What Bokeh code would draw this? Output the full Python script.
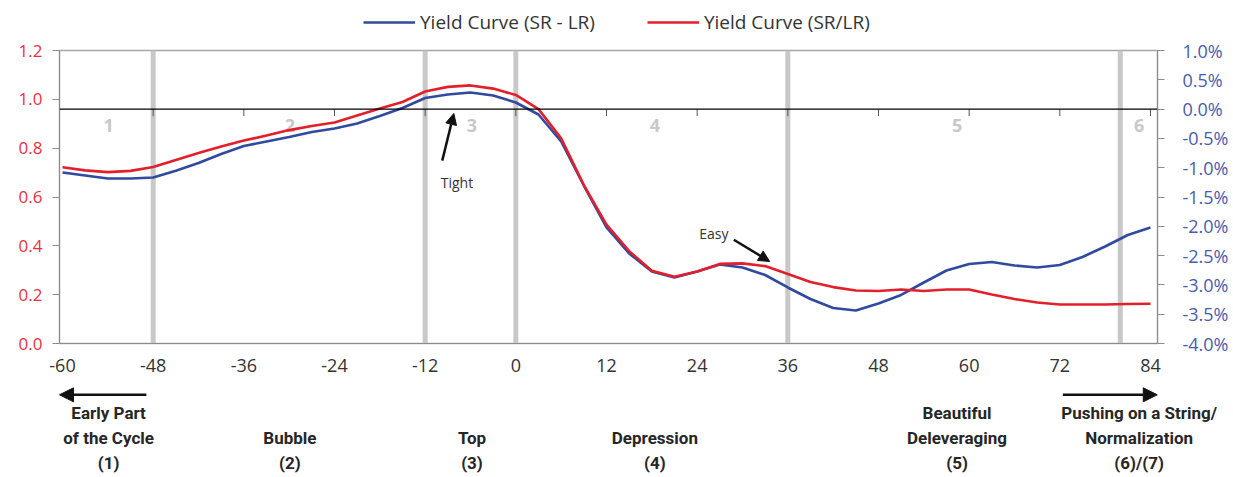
from bokeh.plotting import figure
from bokeh.layouts import column
from bokeh.models import (Range1d, LinearAxis, FixedTicker, PrintfTickFormatter, Span,
                          Label, Arrow, NormalHead, Legend, LegendItem)
from bokeh.core.properties import value
from bokeh.embed import file_html
from bokeh.resources import INLINE

# ---------------- data ----------------
months = list(range(-60, 85, 3))
# Yield Curve (SR/LR) - left axis (ratio)
ratio = [0.722, 0.709, 0.702, 0.707, 0.723, 0.752, 0.780, 0.807, 0.831, 0.852,
         0.874, 0.891, 0.905, 0.934, 0.962, 0.989, 1.032, 1.051, 1.057, 1.044,
         1.018, 0.960, 0.840, 0.649, 0.487, 0.378, 0.298, 0.273, 0.295, 0.326,
         0.328, 0.317, 0.285, 0.252, 0.231, 0.217, 0.215, 0.221, 0.215, 0.221,
         0.221, 0.201, 0.182, 0.168, 0.160, 0.160, 0.160, 0.162, 0.163]
# Yield Curve (SR - LR) - right axis (percent)
spread = [-1.082, -1.133, -1.184, -1.184, -1.167, -1.053, -0.920, -0.766, -0.630, -0.553,
          -0.476, -0.391, -0.331, -0.246, -0.118, 0.019, 0.189, 0.249, 0.283, 0.232,
          0.113, -0.092, -0.553, -1.304, -2.020, -2.464, -2.771, -2.874, -2.771, -2.652,
          -2.703, -2.831, -3.044, -3.241, -3.394, -3.437, -3.317, -3.172, -2.959, -2.754,
          -2.643, -2.609, -2.669, -2.703, -2.660, -2.524, -2.345, -2.148, -2.020]

x_ticks = [-60, -48, -36, -24, -12, 0, 12, 24, 36, 48, 60, 72, 84]
left_ticks = [0.0, 0.2, 0.4, 0.6, 0.8, 1.0, 1.2]
right_ticks = [-4.0, -3.5, -3.0, -2.5, -2.0, -1.5, -1.0, -0.5, 0.0, 0.5, 1.0]
phase_bounds = [-48, -12, 0, 36, 80]
phase_nums = ["1", "2", "3", "4", "5", "6"]
phase_centers = [-53.9, -29.9, -5.8, 18.4, 58.4, 82.5]
phase_names = [["Early Part", "of the Cycle", "(1)"],
               ["Bubble", "(2)"],
               ["Top", "(3)"],
               ["Depression", "(4)"],
               ["Beautiful", "Deleveraging", "(5)"],
               ["Pushing on a String/", "Normalization", "(6)/(7)"]]
series_names = ["Yield Curve (SR - LR)", "Yield Curve (SR/LR)"]

RED = "#e21f2b"
BLUE = "#2f4a9f"
RED_TXT = "#e8333c"
BLUE_TXT = "#4a5cad"
GRAY_BAR = "#c8c8c8"
AXIS_GRAY = "#8c8c8c"
TXT = "#333333"
FONT = "Open Sans"
BOLD_FONT = "Roboto"
W = 1233
BL, BR = 59, 76
TH, PH = 38, 345

X0, X1 = -60.4, 84.93
xr = Range1d(X0, X1)

# ---------------- top strip: legend ----------------
t = figure(width=W, height=TH, x_range=xr, y_range=Range1d(0, 1),
           output_backend="svg", toolbar_location=None,
           x_axis_location=None, y_axis_location=None,
           min_border_left=BL, min_border_right=BR, min_border_top=0, min_border_bottom=0)
t.grid.visible = False
t.outline_line_color = None
lb = t.line(x=[X0, X1], y=[-1, -1], line_color=BLUE, line_width=2.6)
lr = t.line(x=[X0, X1], y=[-1, -1], line_color=RED, line_width=2.6)
legend = Legend(items=[LegendItem(label=series_names[0], renderers=[lb]),
                       LegendItem(label=series_names[1], renderers=[lr])],
                orientation="horizontal", location=(302, 1))
legend.label_text_font = FONT
legend.label_text_font_size = "19px"
legend.label_text_color = TXT
legend.glyph_width = 52
legend.glyph_height = 18
legend.spacing = 52
legend.label_standoff = 5
legend.padding = 2
legend.margin = 0
legend.border_line_alpha = 0
legend.background_fill_alpha = 0
t.add_layout(legend, "center")

# ---------------- main chart ----------------
p = figure(width=W, height=PH, x_range=xr, y_range=Range1d(0, 1.2),
           output_backend="svg", toolbar_location=None,
           min_border_left=BL, min_border_right=BR, min_border_top=12, min_border_bottom=40)
p.extra_y_ranges = {"pct": Range1d(-4, 1)}
p.grid.visible = False
p.outline_line_color = "#a6a6a6"
p.outline_line_width = 1.5

ly = p.yaxis[0]
ly.ticker = FixedTicker(ticks=left_ticks)
ly.formatter = PrintfTickFormatter(format="%.1f")
ly.major_label_text_color = RED_TXT
ly.major_label_text_font = FONT
ly.major_label_text_font_size = "17px"
ly.major_tick_out = 7
ly.major_tick_in = 0
ly.minor_tick_out = 0
ly.minor_tick_in = 0
ly.axis_line_color = AXIS_GRAY
ly.major_tick_line_color = AXIS_GRAY
ly.major_label_standoff = 10

ry = LinearAxis(y_range_name="pct", ticker=FixedTicker(ticks=right_ticks),
                formatter=PrintfTickFormatter(format="%.1f%%"))
ry.major_label_text_color = BLUE_TXT
ry.major_label_text_font = FONT
ry.major_label_text_font_size = "18px"
ry.major_tick_out = 7
ry.major_tick_in = 0
ry.minor_tick_out = 0
ry.minor_tick_in = 0
ry.axis_line_color = AXIS_GRAY
ry.major_tick_line_color = AXIS_GRAY
ry.major_label_standoff = 18
p.add_layout(ry, "right")

bx = p.xaxis[0]
bx.ticker = FixedTicker(ticks=x_ticks)
bx.formatter = PrintfTickFormatter(format="%d")
bx.major_tick_out = 0
bx.major_tick_in = 0
bx.minor_tick_out = 0
bx.minor_tick_in = 0
bx.axis_line_color = AXIS_GRAY
bx.major_label_text_font = FONT
bx.major_label_text_font_size = "18px"
bx.major_label_text_color = TXT
bx.major_label_standoff = 15

for bnd in phase_bounds:
    p.add_layout(Span(location=bnd, dimension="height", line_color=GRAY_BAR, line_width=5,
                      level="underlay"))

p.add_layout(Span(location=0, dimension="width", y_range_name="pct", line_color="black",
                  line_width=1.2))
zt = x_ticks[1:]
p.segment(x0=zt, y0=[0] * len(zt), x1=zt, y1=[-0.12] * len(zt), y_range_name="pct",
          line_color="#555555", line_width=1)

p.text(x=phase_centers, y=[0.893] * len(phase_centers), text=phase_nums,
       text_font=value(FONT), text_font_style="bold", text_font_size="18px",
       text_color=GRAY_BAR, text_align="center", text_baseline="middle")

p.line(months, spread, y_range_name="pct", line_color=BLUE, line_width=2.6)
p.line(months, ratio, line_color=RED, line_width=2.6)

p.add_layout(Arrow(end=NormalHead(size=11, fill_color="#111111", line_color="#111111"),
                   x_start=-9.74, y_start=0.749, x_end=-8.21, y_end=0.942,
                   line_color="#111111", line_width=2.5))
p.add_layout(Label(x=-7.8, y=0.661, text="Tight", text_font=FONT, text_font_size="14px",
                   text_color=TXT, text_align="center", text_baseline="middle"))
p.add_layout(Arrow(end=NormalHead(size=11, fill_color="#111111", line_color="#111111"),
                   x_start=28.85, y_start=0.425, x_end=33.6, y_end=0.336,
                   line_color="#111111", line_width=2.5))
p.add_layout(Label(x=26.2, y=0.452, text="Easy", text_font=FONT, text_font_size="14px",
                   text_color=TXT, text_align="center", text_baseline="middle"))

# ---------------- bottom strip: arrows + phase names (as an axis) ----------------
BH = 477 - TH - PH
FH = 18.5
b = figure(width=W, height=BH, x_range=xr, y_range=Range1d(FH, 0),
           output_backend="svg", toolbar_location=None, y_axis_location=None,
           min_border_left=BL, min_border_right=BR, min_border_top=0,
           min_border_bottom=int(BH - FH))
b.grid.visible = False
b.outline_line_color = None

b.add_layout(Arrow(end=NormalHead(size=14, fill_color="#111111", line_color="#111111"),
                   x_start=-48.9, y_start=11, x_end=-60.4, y_end=11,
                   line_color="#111111", line_width=2.5))
b.add_layout(Arrow(end=NormalHead(size=14, fill_color="#111111", line_color="#111111"),
                   x_start=72.4, y_start=11, x_end=84.9, y_end=11,
                   line_color="#111111", line_width=2.5))

overrides = {}
for c, lines in zip(phase_centers, phase_names):
    pad = ["\u00a0"] * (3 - len(lines))
    overrides[c] = "\n".join(pad + lines)
nx = b.xaxis[0]
nx.ticker = FixedTicker(ticks=phase_centers)
nx.major_label_overrides = overrides
nx.axis_line_color = None
nx.major_tick_out = 0
nx.major_tick_in = 0
nx.minor_tick_out = 0
nx.minor_tick_in = 0
nx.major_label_standoff = 0
nx.major_label_text_font = BOLD_FONT
nx.major_label_text_font_style = "bold"
nx.major_label_text_font_size = "17px"
nx.major_label_text_color = "#262626"
nx.major_label_text_line_height = 1.25
nx.major_label_text_align = "center"

layout = column(t, p, b, spacing=0)
open("out.html", "w").write(file_html(layout, INLINE))
